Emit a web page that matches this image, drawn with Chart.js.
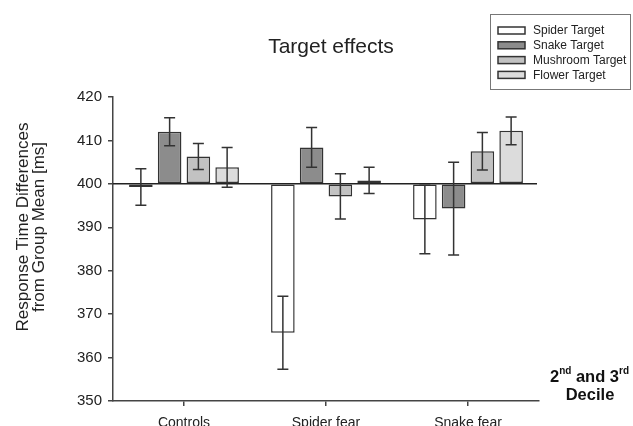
<!DOCTYPE html>
<html>
<head>
<meta charset="utf-8">
<script src="https://cdn.jsdelivr.net/npm/chart.js@4/dist/chart.umd.min.js"></script>
<style>
  html, body { margin: 0; padding: 0; background: #fff; }
  #wrap { width: 633px; height: 426px; position: relative; }
</style>
</head>
<body>
<div id="wrap"><canvas id="chart"></canvas></div>
<script>
// data (bars start at 400)
const categories = ['Controls', 'Spider fear', 'Snake fear'];
const seriesNames = ['Spider Target', 'Snake Target', 'Mushroom Target', 'Flower Target'];
const spiderTarget = [399.3, 365.7, 391.8];
const snakeTarget = [412.0, 408.4, 394.3];
const mushroomTarget = [406.3, 397.1, 407.5];
const flowerTarget = [403.8, 400.8, 412.2];
const spiderErr = [4.2, 8.4, 7.9];
const snakeErr = [3.2, 4.6, 10.7];
const mushroomErr = [3.0, 5.2, 4.3];
const flowerErr = [4.6, 3.0, 3.2];
const yTicks = [350, 360, 370, 380, 390, 400, 410, 420];
const baseline = 400;

const fills = ['#ffffff', '#8c8c8c', '#c2c2c2', '#dcdcdc'];
const edge = '#333333';
const FONT = '"Liberation Sans", Arial, sans-serif';

const allValues = [spiderTarget, snakeTarget, mushroomTarget, flowerTarget];
const allErrors = [spiderErr, snakeErr, mushroomErr, flowerErr];

const datasets = seriesNames.map((name, i) => ({
  label: name,
  data: allValues[i],
  errors: allErrors[i],
  base: baseline,
  backgroundColor: fills[i],
  borderColor: edge,
  borderWidth: 1.5,
  borderSkipped: false,
  categoryPercentage: 0.81,
  barPercentage: 0.82,
}));

// zero line + error bars
const errorBars = {
  id: 'errorBars',
  afterDatasetsDraw(chart) {
    const { ctx, chartArea, scales } = chart;
    const yb = scales.y.getPixelForValue(baseline);
    ctx.save();
    ctx.strokeStyle = '#222';
    ctx.lineWidth = 1.5;
    ctx.beginPath();
    ctx.moveTo(chartArea.left, yb);
    ctx.lineTo(chartArea.right - 2, yb);
    ctx.stroke();

    ctx.strokeStyle = '#333';
    ctx.lineWidth = 1.5;
    chart.data.datasets.forEach((ds, di) => {
      const meta = chart.getDatasetMeta(di);
      meta.data.forEach((bar, j) => {
        const v = ds.data[j], e = ds.errors[j];
        const y1 = scales.y.getPixelForValue(v + e);
        const y2 = scales.y.getPixelForValue(v - e);
        const x = bar.x, cap = 5.5;
        ctx.beginPath();
        ctx.moveTo(x, y1); ctx.lineTo(x, y2);
        ctx.moveTo(x - cap, y1); ctx.lineTo(x + cap, y1);
        ctx.moveTo(x - cap, y2); ctx.lineTo(x + cap, y2);
        ctx.stroke();
      });
    });
    ctx.restore();
  }
};

// title, legend box, y title, decile note
const decorations = {
  id: 'decorations',
  afterDraw(chart) {
    const ctx = chart.ctx;
    ctx.save();
    ctx.fillStyle = '#222';
    ctx.textAlign = 'center';
    ctx.textBaseline = 'middle';
    ctx.font = '21px ' + FONT;
    ctx.fillText('Target effects', 331, 47);

    // y axis title
    ctx.save();
    ctx.translate(0, 227);
    ctx.rotate(-Math.PI / 2);
    ctx.font = '17px ' + FONT;
    ctx.fillText('Response Time Differences', 0, 23);
    ctx.fillText('from Group Mean [ms]', 0, 39);
    ctx.restore();

    // legend
    ctx.strokeStyle = '#777';
    ctx.lineWidth = 1;
    ctx.strokeRect(490.5, 14.5, 140, 75);
    ctx.font = '12px ' + FONT;
    ctx.textAlign = 'left';
    seriesNames.forEach((name, i) => {
      const cy = 30.5 + i * 14.8;
      ctx.fillStyle = fills[i];
      ctx.fillRect(498, cy - 3.5, 27, 7);
      ctx.strokeStyle = edge;
      ctx.lineWidth = 1.5;
      ctx.strokeRect(498, cy - 3.5, 27, 7);
      ctx.fillStyle = '#222';
      ctx.fillText(name, 533, cy + 0.5);
    });

    // "2nd and 3rd Decile"
    ctx.fillStyle = '#111';
    ctx.textBaseline = 'alphabetic';
    const big = 'bold 16.5px ' + FONT, small = 'bold 10px ' + FONT;
    const parts = [['2', big, 0], ['nd', small, -8], [' and 3', big, 0], ['rd', small, -8]];
    let w = 0;
    parts.forEach(p => { ctx.font = p[1]; w += ctx.measureText(p[0]).width; });
    let x = 589.5 - w / 2;
    parts.forEach(p => {
      ctx.font = p[1];
      ctx.fillText(p[0], x, 382 + p[2]);
      x += ctx.measureText(p[0]).width;
    });
    ctx.font = big;
    ctx.textAlign = 'center';
    ctx.fillText('Decile', 590, 400);
    ctx.restore();
  }
};

new Chart(document.getElementById('chart'), {
  type: 'bar',
  data: { labels: categories, datasets },
  options: {
    responsive: true,
    maintainAspectRatio: false,
    animation: false,
    layout: { padding: { left: 0, top: 97, right: 94, bottom: 0 } },
    plugins: {
      legend: { display: false },
      title: { display: false },
      tooltip: { enabled: false },
    },
    scales: {
      x: {
        grid: { display: true, offset: false, drawOnChartArea: false, drawTicks: true, tickLength: 5, color: '#444', lineWidth: 1.5 },
        border: { display: true, color: '#444', width: 1.5 },
        ticks: { color: '#222', font: { family: FONT, size: 14 }, padding: 9 },
        afterFit(scale) { scale.height = 25; },
      },
      y: {
        min: 350,
        max: 420,
        afterBuildTicks(scale) { scale.ticks = yTicks.map(v => ({ value: v })); },
        grid: { display: true, drawOnChartArea: false, drawTicks: true, tickLength: 5, color: '#444', lineWidth: 1.5 },
        border: { display: true, color: '#444', width: 1.5 },
        ticks: { color: '#222', font: { family: FONT, size: 15 }, padding: 6 },
        afterFit(scale) { scale.width = 113; },
      },
    },
  },
  plugins: [errorBars, decorations],
});
</script>
</body>
</html>
